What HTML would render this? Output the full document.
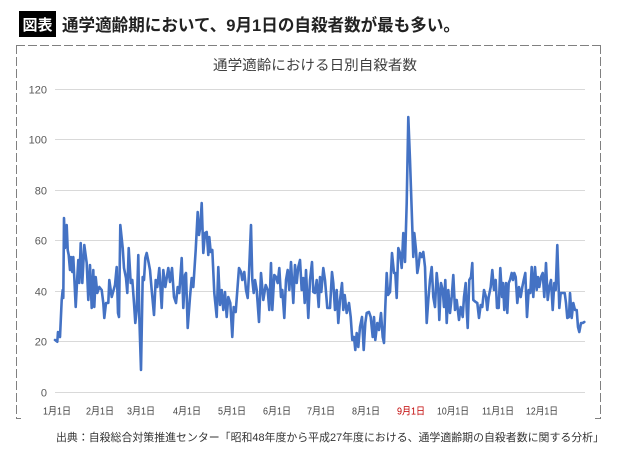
<!DOCTYPE html>
<html><head><meta charset="utf-8">
<style>
html,body{margin:0;padding:0;background:#fff;}
svg{display:block;}
text{font-family:"Liberation Sans","Noto Sans CJK JP",sans-serif;}
</style></head>
<body>
<svg width="620" height="450" viewBox="0 0 620 450" xmlns="http://www.w3.org/2000/svg">
<rect width="620" height="450" fill="#fff"/>
<!-- header -->
<rect x="19" y="11" width="37" height="26" fill="#000"/>
<text x="37.5" y="30" font-size="15" font-weight="bold" fill="#fff" text-anchor="middle">図表</text>
<text x="62" y="31" font-size="17" font-weight="bold" fill="#222" textLength="398" lengthAdjust="spacingAndGlyphs">通学適齢期において、9月1日の自殺者数が最も多い。</text>
<!-- dashed frame -->
<g stroke="#808080" stroke-width="1" fill="none" stroke-dasharray="9 3">
<line x1="16" y1="45.5" x2="600" y2="45.5"/>
<line x1="16.5" y1="45" x2="16.5" y2="418"/>
<line x1="600.5" y1="45" x2="600.5" y2="418"/>
</g>
<g stroke="#808080" stroke-width="1">
<line x1="16" y1="418.5" x2="21" y2="418.5"/>
<line x1="595" y1="418.5" x2="601" y2="418.5"/>
</g>
<!-- chart title -->
<text x="213" y="70" font-size="14" fill="#404040" textLength="204" lengthAdjust="spacingAndGlyphs">通学適齢における日別自殺者数</text>
<!-- grid -->
<g stroke="#d9d9d9" stroke-width="1">
<line x1="55" y1="89.5" x2="585" y2="89.5"/>
<line x1="55" y1="139.5" x2="585" y2="139.5"/>
<line x1="55" y1="190.5" x2="585" y2="190.5"/>
<line x1="55" y1="240.5" x2="585" y2="240.5"/>
<line x1="55" y1="291.5" x2="585" y2="291.5"/>
<line x1="55" y1="341.5" x2="585" y2="341.5"/>
<line x1="55" y1="392.5" x2="585" y2="392.5"/>
</g>
<g font-size="11" fill="#595959" text-anchor="end">
<text x="47" y="93.5">120</text>
<text x="47" y="143.5">100</text>
<text x="47" y="194.5">80</text>
<text x="47" y="244.5">60</text>
<text x="47" y="295.5">40</text>
<text x="47" y="345.5">20</text>
<text x="47" y="396.5">0</text>
</g>
<!-- x labels -->
<g font-size="10" fill="#404040" text-anchor="middle">
<text x="57" y="414.5" textLength="28" lengthAdjust="spacingAndGlyphs">1月1日</text>
<text x="100" y="414.5" textLength="28" lengthAdjust="spacingAndGlyphs">2月1日</text>
<text x="141" y="414.5" textLength="28" lengthAdjust="spacingAndGlyphs">3月1日</text>
<text x="187" y="414.5" textLength="28" lengthAdjust="spacingAndGlyphs">4月1日</text>
<text x="232" y="414.5" textLength="28" lengthAdjust="spacingAndGlyphs">5月1日</text>
<text x="277" y="414.5" textLength="28" lengthAdjust="spacingAndGlyphs">6月1日</text>
<text x="321" y="414.5" textLength="28" lengthAdjust="spacingAndGlyphs">7月1日</text>
<text x="366" y="414.5" textLength="28" lengthAdjust="spacingAndGlyphs">8月1日</text>
<text x="411" y="414.5" textLength="28" lengthAdjust="spacingAndGlyphs" fill="#c00000">9月1日</text>
<text x="453" y="414.5" textLength="32" lengthAdjust="spacingAndGlyphs">10月1日</text>
<text x="498" y="414.5" textLength="32" lengthAdjust="spacingAndGlyphs">11月1日</text>
<text x="542" y="414.5" textLength="32" lengthAdjust="spacingAndGlyphs">12月1日</text>
</g>
<!-- series -->
<polyline fill="none" stroke="#4472c4" stroke-width="2.6" stroke-linejoin="round" stroke-linecap="round" points="
55,340 57.3,341.7 58,332 60,337 61.7,300 62.7,290 63.3,298 64,218 65,248 66.7,225 67.7,250 68.7,255 70,270 71,257 72.3,272 73.3,257 75.7,307 77.3,277 78.3,260 79.3,283 80.7,243 82.3,283 84.3,245 86.7,263 88.3,300 90,265 91.7,308 93.3,270 94.3,307 95.7,277 97.3,293 99.3,287 101.7,290 103.3,303 104.3,318 106,303 108.3,303 109.3,280 111.7,297 115,285 116.7,267 118,313 119,317 120.3,225 122.7,248 124,268 126,278 127.3,293 128.7,248 130.7,283 132.3,280 134,303 135.3,323 136.7,310 138.3,255 139.3,317 141,370 142.7,277 144,280 145.3,258 146.7,253 148.7,263 150,270 151.7,290 154,315 155.7,280 157.3,287 159.3,268 161.7,308 163.3,270 165.3,287 168.3,268 170,282 172,268 174,297 176,303 177.7,287 179.3,293
181.7,258 183.3,308 185,275 186,273 187.7,328 190,297 191.7,278 193.3,287 195.7,250 197.7,212 199,235 200.3,227 201.7,203 203.3,253 205,233 206.7,232 208.3,255 209.3,237 210.7,252 212.3,250 214.3,293 216.7,317 218.3,267 220,305 221.7,290 223.3,310 225,292 226.7,317 228.3,297 230.3,303 232.3,337 233.7,307 235.7,312 239,268 241,272 242.3,280 244.3,272 246,290 247.7,298 249,273 251,225 252.3,280 253.7,293 255,280 256.7,290 259,322 261,273 263.3,300 265.7,285 267.7,290 269.3,310 271,263 272.3,310 274.3,275 276,277 277.7,283 279.3,268 281,297 282.3,290 284.3,318 286,280 287.7,270 289.3,290 291,262 293.3,303 295,265 296.7,283 298.3,267
300,260 301.7,290 303.3,278 304.7,303 306,270 308.3,318 310,280 312,262 313.3,292 315,293 316.7,280 318.7,307 320,277 321.3,292 323.3,268 325,280 327.3,308 330,308 332,272 333.3,283 335,310 336.7,290 338.3,323 340,300 342,283 343.3,310 344.7,295 346.7,313 349,303 350.7,317 352.3,340 354,337 355.3,350 356.7,333 358.3,347 360,327 362,317 363.7,350 365.3,323 366.7,313 369,312 370.7,317 372.7,337 374,317 375.3,340 377.3,323 379,330 381,313 382.7,337 384,343 385.3,307 386.7,273 388,295 390,292 392,253 394,273 395.3,273 396.7,298 398.3,248 400,253 401.7,268 403.3,233 405,262 406.7,203 408.3,117 410,160 411.7,210 413.3,257 414.3,233 416,250 417.3,273 418.7,265
420,253 421.7,257 423.3,252 425,267 426.7,323 428.3,300 430,280 431.7,267 433.3,297 435,307 436.7,273 438.3,290 439.3,320 441,283 442.7,290 444,307 445.3,280 446.7,323 448.3,290 450,313 451.7,297 453.3,275 455,310 456.7,300 459,320 460.7,307 462.7,317 464,297 465.7,283 466.7,310 467.7,328 469.3,280 471,277 472.3,263 473.3,300 475.7,302 477.3,303 479,318 480.7,305 482.3,307 484,290 486,297 487.3,310 488.7,297 490.7,287 492.3,270 494,290 495.7,280 497,308 498.7,308 500.3,268 502,297 503,283 504.3,310 506,283 507.3,313 508.7,283 510,280 511.7,273 513,280 514.3,273 515.7,277 517.3,303 519,287 520.7,297 522.3,287 523.7,280 525.3,273 527,317 528.7,290 530.3,293 531.7,267 533.3,297 535,267 536.7,290 538,277 539.3,287 541,277 542.7,273 544.3,297 546,263 547.7,300 549.3,287 551,280 552.7,310 554.3,283 555.7,290 557.3,245 559.3,308 560.7,293 562.7,293 564.7,293 566,303 567.3,318 569,317 570,293 571.7,318 573.3,303 575,310 576.7,310 578,327 579.3,332 581,323 582.7,323 584.3,322"/>
<!-- source -->
<text x="56" y="441" font-size="11" fill="#333" textLength="548" lengthAdjust="spacingAndGlyphs">出典：自殺総合対策推進センター「昭和48年度から平成27年度における、通学適齢期の自殺者数に関する分析」</text>
</svg>
</body></html>
